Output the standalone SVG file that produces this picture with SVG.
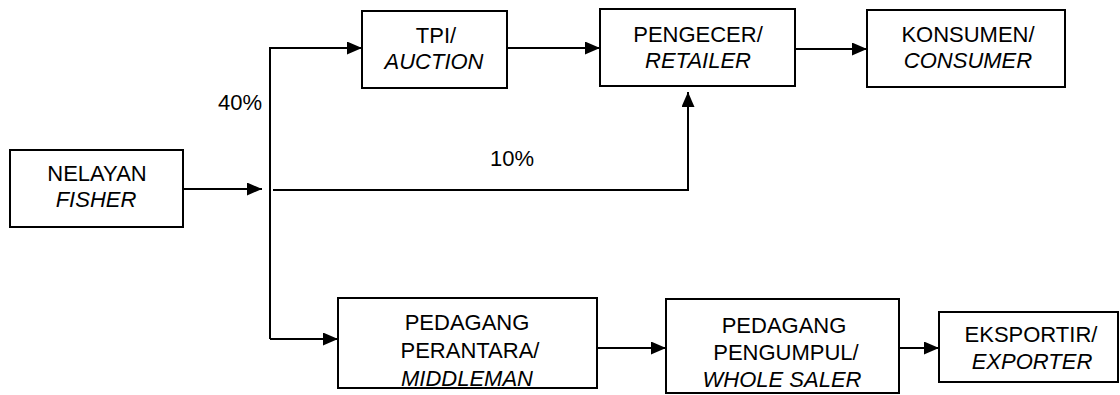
<svg xmlns="http://www.w3.org/2000/svg" width="1120" height="395" viewBox="0 0 1120 395">
<style>
.box{fill:#fff;stroke:#000;stroke-width:2}
.t{font-family:"Liberation Sans",Arial,sans-serif;font-size:22px;fill:#000;text-anchor:middle}
.i{font-style:italic}
.c{fill:none;stroke:#000;stroke-width:2}
</style>
<defs>
<marker id="ah" markerWidth="15" markerHeight="13" refX="15" refY="6.5" orient="auto" markerUnits="userSpaceOnUse">
<path d="M0,0 L15,6.5 L0,13 Z" fill="#000"/>
</marker>
</defs>
<rect width="1120" height="395" fill="#fff"/>
<g id="connectors">
<line class="c" x1="183" y1="189" x2="262" y2="189" marker-end="url(#ah)"/>
<polyline class="c" points="270,339 270,48 362,48" marker-end="url(#ah)"/>
<line class="c" x1="270" y1="339" x2="338" y2="339" marker-end="url(#ah)"/>
<polyline class="c" points="273,190 688,190 688,92" marker-end="url(#ah)"/>
<line class="c" x1="507" y1="48" x2="600" y2="48" marker-end="url(#ah)"/>
<line class="c" x1="795" y1="49" x2="867" y2="49" marker-end="url(#ah)"/>
<line class="c" x1="597" y1="348" x2="666" y2="348" marker-end="url(#ah)"/>
<line class="c" x1="899" y1="348" x2="939" y2="348" marker-end="url(#ah)"/>
<text class="t" x="240" y="110">40%</text>
<text class="t" x="512" y="166">10%</text>
</g>
<g id="nelayan">
<rect class="box" x="10" y="150" width="173" height="77"/>
<text class="t" x="97" y="181">NELAYAN</text>
<text class="t i" x="96" y="207">FISHER</text>
</g>
<g id="tpi">
<rect class="box" x="362" y="11" width="145" height="77"/>
<text class="t" x="436" y="43">TPI/</text>
<text class="t i" x="434" y="69">AUCTION</text>
</g>
<g id="pengecer">
<rect class="box" x="600" y="9" width="195" height="77"/>
<text class="t" x="698" y="42">PENGECER/</text>
<text class="t i" x="698" y="68">RETAILER</text>
</g>
<g id="konsumen">
<rect class="box" x="867" y="10" width="198" height="77"/>
<text class="t" x="968" y="42">KONSUMEN/</text>
<text class="t i" x="968" y="68">CONSUMER</text>
</g>
<g id="perantara">
<rect class="box" x="338" y="298" width="259" height="90"/>
<text class="t" x="467" y="330">PEDAGANG</text>
<text class="t" x="470" y="358">PERANTARA/</text>
<text class="t i" x="467" y="386">MIDDLEMAN</text>
</g>
<g id="pengumpul">
<rect class="box" x="666" y="299" width="233" height="94"/>
<text class="t" x="784" y="333">PEDAGANG</text>
<text class="t" x="786" y="360">PENGUMPUL/</text>
<text class="t i" x="782" y="387">WHOLE SALER</text>
</g>
<g id="eksportir">
<rect class="box" x="939" y="312" width="179" height="70"/>
<text class="t" x="1031" y="342">EKSPORTIR/</text>
<text class="t i" x="1032" y="369">EXPORTER</text>
</g>
</svg>
